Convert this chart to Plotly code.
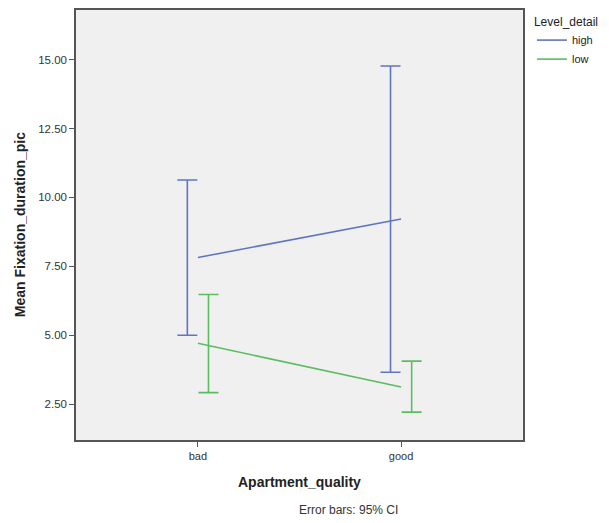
import plotly.graph_objects as go

categories = ["bad", "good"]
series_names = ["high", "low"]
means_high = [7.82, 9.22]
means_low = [4.71, 3.12]
ci_upper_high = [10.63, 14.77]
ci_lower_high = [5.00, 3.66]
ci_upper_low = [6.48, 4.06]
ci_lower_low = [2.92, 2.21]
y_tickvals = [2.5, 5.0, 7.5, 10.0, 12.5, 15.0]
y_ticktext = ["2.50", "5.00", "7.50", "10.00", "12.50", "15.00"]

colors = {"high": "#5f76be", "low": "#5abd60"}
offsets = {"high": -0.052, "low": 0.052}

xpos = list(range(len(categories)))
data = {
    "high": (means_high, ci_upper_high, ci_lower_high),
    "low": (means_low, ci_upper_low, ci_lower_low),
}

fig = go.Figure()
for name in series_names:
    m, up, lo = data[name]
    fig.add_trace(go.Scatter(
        x=xpos, y=m, mode="lines", name=name,
        line=dict(color=colors[name], width=1.6),
    ))
for name in series_names:
    m, up, lo = data[name]
    fig.add_trace(go.Scatter(
        x=[p + offsets[name] for p in xpos], y=m, mode="markers",
        marker=dict(size=0.1, opacity=0, color=colors[name]),
        showlegend=False, hoverinfo="skip",
        error_y=dict(type="data", symmetric=False,
                     array=[u - v for u, v in zip(up, m)],
                     arrayminus=[v - l for v, l in zip(m, lo)],
                     color=colors[name], thickness=1.6, width=10),
    ))

font_family = "Liberation Sans, Arial, sans-serif"
fig.update_layout(
    width=609, height=523,
    margin=dict(l=76, r=86, t=8, b=83),
    paper_bgcolor="white", plot_bgcolor="#f0f0f0",
    font=dict(family=font_family, size=11, color="#333333"),
    showlegend=True,
    legend=dict(
        title=dict(text="Level_detail", font=dict(size=12, color="#222222")),
        x=1.02, y=1.0, xanchor="left", yanchor="top",
        font=dict(size=11, color="#222222"),
        itemwidth=30, tracegroupgap=0, bgcolor="rgba(0,0,0,0)",
    ),
    xaxis=dict(
        range=[-0.6, 1.6], tickvals=xpos, ticktext=categories,
        showgrid=False, zeroline=False, showline=True, mirror=True,
        linecolor="#555555", linewidth=1.5,
        ticks="outside", ticklen=5, tickcolor="#555555", tickwidth=1,
        tickfont=dict(size=11, color="#333333"),
    ),
    yaxis=dict(
        range=[1.2, 16.8], tickvals=y_tickvals, ticktext=y_ticktext,
        showgrid=False, zeroline=False, showline=True, mirror=True,
        linecolor="#555555", linewidth=1.5,
        ticks="outside", ticklen=5, tickcolor="#555555", tickwidth=1,
        tickfont=dict(size=11.5, color="#333333"),
    ),
    annotations=[
        dict(text="<b>Apartment_quality</b>", xref="paper", yref="paper",
             x=0.5, y=-0.097, xanchor="center", yanchor="middle",
             showarrow=False, font=dict(size=14, color="#222222")),
        dict(text="<b>Mean Fixation_duration_pic</b>", xref="paper", yref="paper",
             x=-0.125, y=0.5, xanchor="center", yanchor="middle", textangle=-90,
             showarrow=False, font=dict(size=14, color="#222222")),
        dict(text="Error bars: 95% CI", xref="paper", yref="paper",
             x=0.61, y=-0.162, xanchor="center", yanchor="middle",
             showarrow=False, font=dict(size=12, color="#333333")),
    ],
)

fig.write_html("out.html")
